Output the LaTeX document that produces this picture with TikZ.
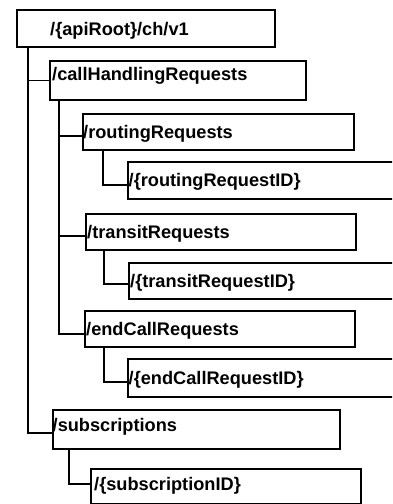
\documentclass[tikz,border=0pt]{standalone}
\usepackage{fontspec}
\setmainfont{Liberation Sans}
\usetikzlibrary{calc}
\begin{document}
\begin{tikzpicture}[x=1pt,y=-1pt,
  box/.style={draw=black,line width=1.7pt,rectangle,inner sep=0pt,anchor=north west},
  lbl/.style={anchor=base west,inner sep=0pt,font=\fontsize{18.2pt}{20pt}\selectfont\bfseries},
  conn/.style={draw=black,line width=1.7pt}]
\useasboundingbox (0,0) rectangle (392,504);
\clip (0,0) rectangle (392,504);
% boxes
\node[box,minimum width=258pt,minimum height=37pt] (b1) at (16,9) {};
\node[box,minimum width=256pt,minimum height=39pt] (b2) at (49,60) {};
\node[box,minimum width=271pt,minimum height=36pt] (b3) at (82,113) {};
\node[box,minimum width=280pt,minimum height=37pt] (b4) at (127,161) {};
\node[box,minimum width=270pt,minimum height=36pt] (b5) at (85,213) {};
\node[box,minimum width=280pt,minimum height=36pt] (b6) at (128,262) {};
\node[box,minimum width=270pt,minimum height=36pt] (b7) at (84,310) {};
\node[box,minimum width=280pt,minimum height=38pt] (b8) at (127,358) {};
\node[box,minimum width=287pt,minimum height=39pt] (b9) at (52,409) {};
\node[box,minimum width=270pt,minimum height=35pt] (b10) at (90,468) {};
% labels
\node[lbl] (t1) at (50,35) {/\{apiRoot\}/ch/v1};
\node[lbl] (t2) at (52,80) {/callHandlingRequests};
\node[lbl] (t3) at (83,138) {/routingRequests};
\node[lbl] (t4) at (128.5,186.5) {/\{routingRequestID\}};
\node[lbl] (t5) at (87,238) {/transitRequests};
\node[lbl] (t6) at (130,287.5) {/\{transitRequestID\}};
\node[lbl] (t7) at (86,335) {/endCallRequests};
\node[lbl] (t8) at (128.5,384) {/\{endCallRequestID\}};
\node[lbl] (t9) at (52.5,431.5) {/subscriptions};
\node[lbl] (t10) at (94,490.5) {/\{subscriptionID\}};
% connectors
\coordinate (k1) at ($(b1.south west)+(12,0)$);
\draw[conn] (k1) |- ($(b9.west)+(0,3.5)$);
\draw[conn] (k1 |- b2.west) -- (b2.west);
\coordinate (k2) at ($(b2.south west)+(10,0)$);
\draw[conn] (k2) |- ($(b7.west)+(0,5)$);
\draw[conn] ($(k2 |- b3.west)+(0,4)$) -- ($(b3.west)+(0,4)$);
\draw[conn] ($(k2 |- b5.west)+(0,4)$) -- ($(b5.west)+(0,4)$);
\draw[conn] ($(b3.south west)+(21,0)$) |- ($(b4.west)+(0,4.5)$);
\draw[conn] ($(b5.south west)+(19,0)$) |- ($(b6.west)+(0,3)$);
\draw[conn] ($(b7.south west)+(20,0)$) |- ($(b8.west)+(0,4)$);
\draw[conn] ($(b9.south west)+(17,0)$) |- ($(b10.west)+(0,-2.5)$);
\end{tikzpicture}
\end{document}
